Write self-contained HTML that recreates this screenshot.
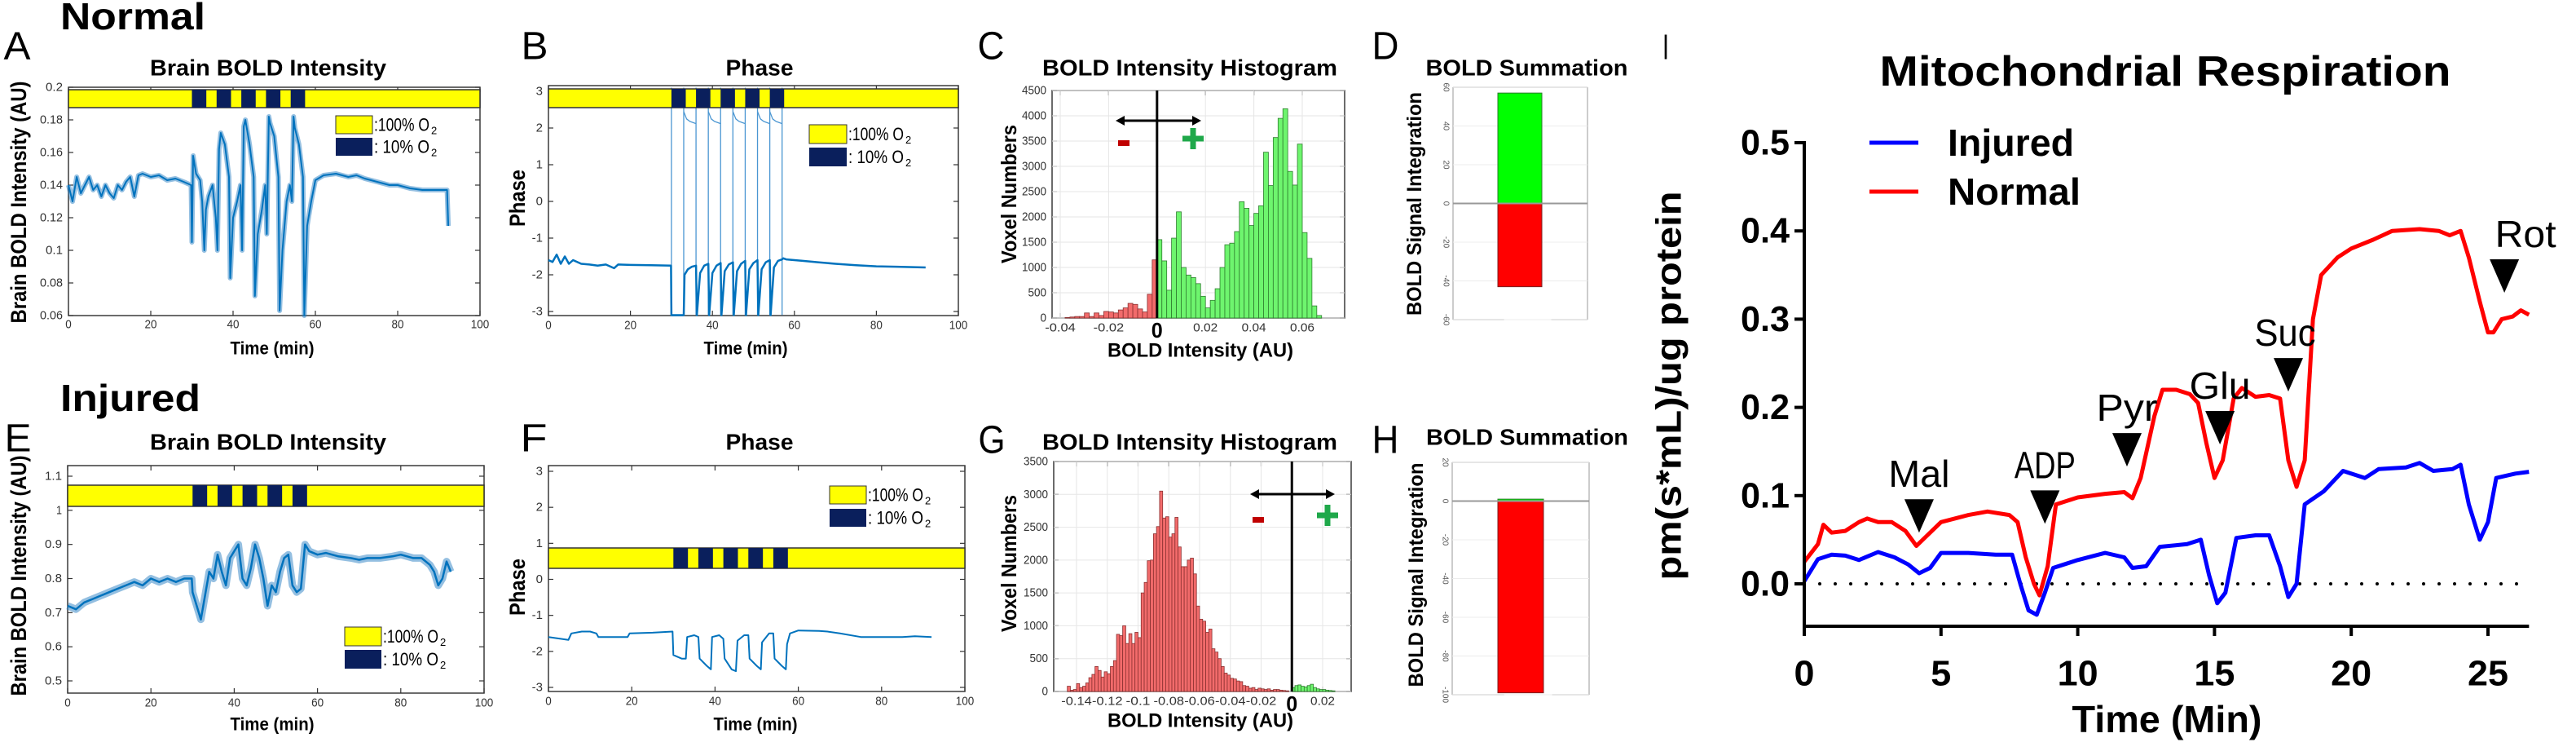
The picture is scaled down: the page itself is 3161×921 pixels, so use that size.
<!DOCTYPE html>
<html><head><meta charset="utf-8"><style>
html,body{margin:0;padding:0;background:#fff;}
svg{display:block;font-family:"Liberation Sans",Arial,sans-serif;}
</style></head><body>
<svg id="fig" width="3161" height="921" viewBox="0 0 3161 921" xmlns="http://www.w3.org/2000/svg"></svg>
<script>
// ---------------- DATA ----------------
const o2Blocks = [[30,33.5],[36,39.5],[42,45.5],[48,51.5],[54,57.5]];
// Panel A - normal BOLD intensity
const aTime = [0,1,2,3,4,5,6,7,8,9,10,11,12,13,14,15,16,17,18,20,22,24,26,28,29.8,30,30.3,31,32,32.5,33,33.4,34,35,35.8,36.2,36.6,37,38,39,39.3,40,41,41.8,42.2,42.6,43,44,45,45.3,46,47,47.8,48.2,48.7,49,50,51,51.3,52,53,53.8,54.3,54.7,55,56,57,57.3,58,59,60,62,65,68,70,72,75,78,80,83,86,89,92,92.3];
const aValue = [0.14,0.13,0.145,0.135,0.14,0.145,0.137,0.14,0.133,0.14,0.135,0.132,0.14,0.137,0.142,0.145,0.133,0.146,0.147,0.145,0.146,0.143,0.144,0.142,0.14,0.105,0.158,0.147,0.143,0.13,0.1,0.125,0.133,0.14,0.12,0.1,0.162,0.172,0.165,0.145,0.083,0.12,0.13,0.14,0.1,0.176,0.18,0.165,0.145,0.072,0.11,0.125,0.14,0.11,0.182,0.178,0.17,0.145,0.063,0.1,0.13,0.14,0.13,0.182,0.175,0.165,0.145,0.06,0.115,0.13,0.143,0.146,0.147,0.145,0.146,0.144,0.142,0.14,0.14,0.138,0.137,0.137,0.137,0.115];
// Panel B - normal phase
const bTime = [0,1,2,3,4,5,6,8,10,12,14,16,17,20,25,29.9,30,33,33.2,34,35,36,36.2,37,38,39,39.2,40,41,42,42.2,43,44,45,45.2,46,47,48,48.2,49,50,51,51.2,52,53,54,54.2,55,56,57,57.3,58,62,66,70,75,80,85,92];
const bPhase = [-1.6,-1.65,-1.45,-1.7,-1.5,-1.7,-1.6,-1.7,-1.72,-1.75,-1.72,-1.82,-1.72,-1.73,-1.74,-1.75,-3.1,-3.1,-2.0,-1.85,-1.78,-1.75,-3.1,-1.95,-1.75,-1.7,-3.1,-1.95,-1.75,-1.68,-3.1,-1.9,-1.72,-1.66,-3.1,-1.9,-1.7,-1.62,-3.1,-1.85,-1.68,-1.6,-3.1,-1.85,-1.66,-1.6,-3.1,-1.8,-1.62,-1.58,-1.55,-1.58,-1.62,-1.66,-1.7,-1.74,-1.77,-1.78,-1.8];
const bWrapTimes = [30,33,36,39,42,45,48,51,54,57];
// Panel E - injured BOLD intensity
const eTime = [0,2,4,6,8,10,12,14,16,18,20,22,24,26,28,29.8,30,31,32,33,34,35,36,37,38,39,40,41,42,43,44,45,46,47,48,49,50,51,52,53,54,55,56,57,58,60,62,65,68,70,72,75,78,80,83,85,87,88,89,90,91,92];
const eValue = [0.72,0.71,0.73,0.74,0.75,0.76,0.77,0.78,0.79,0.78,0.8,0.79,0.8,0.79,0.8,0.8,0.76,0.72,0.68,0.75,0.82,0.8,0.87,0.82,0.78,0.86,0.88,0.9,0.8,0.78,0.83,0.9,0.86,0.8,0.72,0.78,0.76,0.82,0.86,0.87,0.78,0.76,0.77,0.9,0.88,0.87,0.875,0.865,0.86,0.855,0.86,0.86,0.865,0.87,0.86,0.86,0.84,0.82,0.78,0.8,0.85,0.82];
// Panel F - injured phase
const fTime = [0,4.8,5.5,8,10,11.5,12,19,19.5,25,29.8,30,32,33,33.3,35,36,36.3,38,39,39.3,41,42,42.3,44,45,45.4,47,48,48.3,50,51,51.3,53,54,54.3,56,57,57.3,58,60,65,67,70,75,80,85,88,92];
const fPhase = [-1.6,-1.68,-1.5,-1.45,-1.45,-1.5,-1.6,-1.6,-1.5,-1.48,-1.45,-2.1,-2.2,-2.2,-1.6,-1.55,-1.6,-2.2,-2.4,-2.5,-1.6,-1.55,-1.65,-2.2,-2.5,-2.55,-1.7,-1.55,-1.55,-2.2,-2.4,-2.5,-1.75,-1.5,-1.5,-2.2,-2.4,-2.5,-1.8,-1.5,-1.42,-1.43,-1.45,-1.5,-1.6,-1.6,-1.6,-1.58,-1.6];
// Panel C - histogram (normal)
const cBinStart = -0.038, cBinWidth = 0.002;
const cCounts = [10,20,30,30,100,30,100,50,130,120,100,160,200,290,270,180,120,470,1150,1550,1130,550,1580,2100,1000,850,800,680,430,200,350,580,1000,1450,1480,1710,2300,2170,1830,2070,2220,3280,2620,3570,3950,4140,2900,2630,3440,1690,1180,240,50];
// Panel G - histogram (injured)
const gBinStart = -0.146, gBinWidth = 0.002;
const gCounts = [80,20,30,120,60,80,130,210,260,380,320,220,300,270,380,470,870,850,1000,730,880,730,900,820,1500,1660,1990,2000,2400,2510,3050,2640,2660,2350,2400,2650,2200,1900,1900,2000,2030,1790,1300,1100,1070,900,950,650,600,500,380,280,250,200,190,160,150,90,80,50,60,30,50,40,30,40,20,30,30,20,15,10,0,60,90,100,80,70,90,110,60,40,30,30,20,15,10];
// Panels D/H - summation
const dPositive = 57, dNegative = -43;
const hPositive = 1, hNegative = -99;
// Panel I - mitochondrial respiration
const iNormalTime = [0,0.5,0.7,1,1.5,2,2.3,2.7,3.2,3.7,4.1,4.5,5,6,6.7,7.5,7.8,8.1,8.4,8.6,8.9,9.2,10,11,11.7,12,12.3,12.8,13.1,13.6,14.1,14.4,14.7,15,15.3,15.7,16,16.5,17,17.4,17.7,18,18.3,18.6,18.9,19.5,20,20.8,21.5,22.5,23.2,23.6,24,24.3,24.7,25,25.2,25.5,25.9,26.2,26.5];
const iNormal = [0.025,0.045,0.067,0.058,0.06,0.07,0.074,0.07,0.07,0.06,0.043,0.055,0.07,0.078,0.082,0.078,0.07,0.03,0.0,-0.013,0.02,0.09,0.098,0.102,0.104,0.097,0.12,0.19,0.22,0.22,0.215,0.205,0.16,0.12,0.14,0.21,0.222,0.212,0.214,0.21,0.14,0.11,0.14,0.3,0.35,0.37,0.38,0.39,0.4,0.402,0.4,0.395,0.4,0.37,0.32,0.285,0.285,0.3,0.303,0.31,0.305];
const iInjuredTime = [0,0.5,1,1.5,2,2.7,3.3,3.8,4.2,4.6,5,6,7,7.6,7.9,8.2,8.5,8.8,9.1,10,11,11.7,12,12.5,13,14,14.5,14.8,15.1,15.4,15.8,16.5,17,17.4,17.7,18,18.3,19,19.7,20.5,21,22,22.5,23,23.7,24,24.3,24.7,25,25.3,26,26.5];
const iInjured = [0.003,0.028,0.033,0.032,0.027,0.036,0.03,0.022,0.012,0.018,0.035,0.035,0.033,0.033,0.0,-0.03,-0.035,-0.01,0.018,0.027,0.035,0.03,0.018,0.02,0.042,0.045,0.05,0.01,-0.022,-0.01,0.052,0.055,0.055,0.02,-0.015,0.0,0.09,0.105,0.128,0.12,0.13,0.132,0.137,0.128,0.13,0.135,0.09,0.05,0.07,0.12,0.125,0.127];
const iArrowLabels = ["Mal","ADP","Pyr","Glu","Suc","Rot"];
const iArrowTimes = [4.2,8.8,11.8,15.2,17.7,25.6];
const iArrowValues = [0.058,0.068,0.133,0.158,0.218,0.33];
const iYTicks = ["0.0","0.1","0.2","0.3","0.4","0.5"];
const iXTicks = ["0","5","10","15","20","25"];

// ---------------- HELPERS ----------------
const NS="http://www.w3.org/2000/svg";
const svg=document.getElementById('fig');
function mk(tag,attrs,parent,name,inter){
  const e=document.createElementNS(NS,tag);
  for(const k in attrs) e.setAttribute(k,attrs[k]);
  
  
  (parent||svg).appendChild(e);return e;
}
function txt(x,y,s,o,name){
  o=o||{};
  const a={x:x,y:y,'font-size':o.size||16,'text-anchor':o.anchor||'middle','dominant-baseline':o.base||'central',fill:o.fill||'#000'};
  if(o.weight)a['font-weight']=o.weight;
  if(o.len){a.textLength=o.len;a.lengthAdjust='spacingAndGlyphs';}
  if(o.rot!==undefined)a.transform='rotate('+o.rot+' '+x+' '+y+')';
  const e=mk('text',a,o.parent,name||'label');
  e.textContent=s;return e;
}
const lin=(d0,d1,r0,r1)=>v=>r0+(v-d0)/(d1-d0)*(r1-r0);
function fmt(v){let s=(+v.toFixed(4)).toString();return s;}

function frame(g,L,R,T,B,name){
  mk('rect',{x:L,y:T,width:R-L,height:B-T,fill:'none',stroke:'#3a3a3a','stroke-width':1.5},g,name);
}
function yTicks(g,vals,ys,L,R,opt){
  vals.forEach(v=>{
    const y=ys(v);
    mk('line',{x1:L,x2:L+6,y1:y,y2:y,stroke:'#333','stroke-width':1.2},g,'y-tick');
    mk('line',{x1:R,x2:R-6,y1:y,y2:y,stroke:'#333','stroke-width':1.2},g,'y-tick-right');
    if(opt&&opt.grid) mk('line',{x1:L,x2:R,y1:y,y2:y,stroke:'#e6e6e6','stroke-width':1},g,'grid-line');
    txt(L-7,y,fmt(v),{size:opt&&opt.size||15,anchor:'end',fill:'#333',len:opt&&opt.lenf?opt.lenf(fmt(v)):undefined},'y-tick-label');
  });
}
function xTicks(g,vals,xs,T,B,ly,opt){
  vals.forEach(v=>{
    const x=xs(v);
    mk('line',{x1:x,x2:x,y1:B,y2:B-6,stroke:'#333','stroke-width':1.2},g,'x-tick');
    mk('line',{x1:x,x2:x,y1:T,y2:T+6,stroke:'#333','stroke-width':1.2},g,'x-tick-top');
    if(opt&&opt.grid) mk('line',{x1:x,x2:x,y1:T,y2:B,stroke:'#e6e6e6','stroke-width':1},g,'grid-line');
    const lab=fmt(v);
    if(opt&&opt.zeroBig&&Math.abs(v)<1e-9) txt(x,ly+3,'0',{size:26,weight:'bold',len:14},'x-zero-label');
    else txt(x,ly,lab,{size:15,fill:'#333',len:lab.length*7.5},'x-tick-label');
  });
}
function poly(g,xsArr,ysArr,xs,ys,style,name){
  const pts=xsArr.map((t,i)=>xs(t).toFixed(1)+','+ys(ysArr[i]).toFixed(1)).join(' ');
  return mk('polyline',Object.assign({points:pts,fill:'none','stroke-linejoin':'round'},style),g,name);
}
function o2bar(g,xs,y,h,name){
  const L=xs(0),R=xs(100);
  mk('rect',{x:L,y:y,width:R-L,height:h,fill:'#ffff00',stroke:'#333','stroke-width':1.5},g,name);
  o2Blocks.forEach(b=>{
    mk('rect',{x:xs(b[0]),y:y,width:xs(b[1])-xs(b[0]),height:h,fill:'#0a1f5c'},g,'hypoxia-block');
  });
}
function o2legend(g,x,y,w,h,gap,name){
  const lg=mk('g',{},g,name);
  mk('rect',{x:x,y:y,width:w,height:h,fill:'#ffff00',stroke:'#333','stroke-width':1},lg,'legend-swatch-100');
  mk('rect',{x:x,y:y+h+gap,width:w,height:h,fill:'#0a1f5c'},lg,'legend-swatch-10');
  txt(x+w+2,y+h/2,':100% O',{size:22,anchor:'start',len:68,parent:lg},'legend-label-100');
  txt(x+w+72,y+h/2+7,'2',{size:13,anchor:'start',parent:lg},'subscript');
  txt(x+w+2,y+h*1.5+gap,':  10% O',{size:22,anchor:'start',len:68,parent:lg},'legend-label-10');
  txt(x+w+72,y+h*1.5+gap+7,'2',{size:13,anchor:'start',parent:lg},'subscript');
}

// ---------------- TOP LABELS ----------------
txt(74,20,'Normal',{size:46,weight:'bold',anchor:'start',len:178},'normal-row-title');
txt(74,488,'Injured',{size:46,weight:'bold',anchor:'start',len:172},'injured-row-title');
[['A',21,57],['B',656,57],['C',1216,57],['D',1700,57],['E',22,538],['F',655,538],['G',1217,540],['H',1700,540]].forEach(p=>{
  txt(p[1],p[2],p[0],{size:48,len:33},'panel-letter-'+p[0].toLowerCase());
});
txt(2044,58,'I',{size:44,len:8},'panel-letter-i');

// ---------------- PANEL A ----------------
(function(){
  const g=mk('g',{},svg,'panel-a');
  const L=84,R=589,T=107,B=387;
  const xs=lin(0,100,L,R), ys=lin(0.06,0.2,B,T);
  txt(329,83,'Brain BOLD Intensity',{size:28,weight:'bold',len:290},'panel-a-title');
  frame(g,L,R,T,B,'panel-a-frame');
  yTicks(g,[0.06,0.08,0.1,0.12,0.14,0.16,0.18,0.2],ys,L,R,{lenf:s=>s.length*7});
  xTicks(g,[0,20,40,60,80,100],xs,T,B,398);
  o2bar(g,xs,110,22,'panel-a-o2-bar');
  poly(g,aTime,aValue,xs,ys,{stroke:'#2a7fc4','stroke-width':6,opacity:0.5},'bold-noise-band');
  poly(g,aTime,aValue,xs,ys,{stroke:'#0072BD','stroke-width':2},'bold-trace');
  o2legend(g,412,142,45,22,5,'panel-a-legend');
  txt(334,427,'Time (min)',{size:22,weight:'bold',len:103},'x-axis-title');
  txt(23,248,'Brain BOLD Intensity (AU)',{size:27,weight:'bold',len:297,rot:-90},'y-axis-title');
})();

// ---------------- PANEL B ----------------
(function(){
  const g=mk('g',{},svg,'panel-b');
  const L=673,R=1176,T=105,B=387;
  const xs=lin(0,100,L,R), ys=lin(-3,3,382,112);
  txt(932,83,'Phase',{size:28,weight:'bold',len:83},'panel-b-title');
  frame(g,L,R,T,B,'panel-b-frame');
  yTicks(g,[-3,-2,-1,0,1,2,3],ys,L,R,{});
  xTicks(g,[0,20,40,60,80,100],xs,T,B,399);
  bWrapTimes.forEach(t=>mk('line',{x1:xs(t),x2:xs(t),y1:ys(3.1),y2:ys(-3.1),stroke:'#4a96d2','stroke-width':1.3},g,'phase-wrap-line'));
  o2bar(g,xs,109,23,'panel-b-o2-bar');
  [[33,36],[39,42],[45,48],[51,54],[54,57]].forEach(p=>{
    poly(g,[p[0],p[0]+0.7,p[0]+1.5,p[1]],[2.45,2.25,2.18,2.12],xs,ys,{stroke:'#4a96d2','stroke-width':1.3},'phase-wrap-top-curve');
  });
  poly(g,bTime,bPhase,xs,ys,{stroke:'#0072BD','stroke-width':2.5},'phase-trace');
  o2legend(g,993,153,46,23,5,'panel-b-legend');
  txt(915,427,'Time (min)',{size:22,weight:'bold',len:103},'x-axis-title');
  txt(635,243,'Phase',{size:27,weight:'bold',len:70,rot:-90},'y-axis-title');
})();

// ---------------- HISTOGRAM HELPER ----------------
function hist(gname,L,R,T,B,xd,yd,xt,yt,start,w,counts,xticklabY){
  const g=mk('g',{},svg,gname);
  const xs=lin(xd[0],xd[1],xd[2],xd[3]), ys=lin(0,yd[0],B,yd[1]);
  frame(g,L,R,T,B,gname+'-frame');
  yTicks(g,yt,ys,L,R,{grid:true,lenf:s=>s.length*7.5});
  xTicks(g,xt,xs,T,B,xticklabY,{grid:true,zeroBig:true});
  counts.forEach((c,i)=>{
    const x0=start+i*w, pos=x0>=-1e-9;
    if(c<=0)return;
    mk('rect',{x:xs(x0),y:ys(c),width:xs(x0+w)-xs(x0),height:ys(0)-ys(c),fill:pos?'#6ef56e':'#f26b6b',stroke:pos?'#2f7d2f':'#8a3030','stroke-width':0.8},g,pos?'histogram-bar-positive':'histogram-bar-negative');
  });
  mk('line',{x1:xs(0),x2:xs(0),y1:T,y2:B,stroke:'#000','stroke-width':3},g,'zero-line');
  return {g,xs,ys};
}
function pmArrow(g,x1,x2,y,mx,my,px,py){
  mk('line',{x1:x1+6,x2:x2-6,y1:y,y2:y,stroke:'#000','stroke-width':3},g,'direction-arrow');
  mk('polygon',{points:`${x1},${y} ${x1+11},${y-6} ${x1+11},${y+6}`,fill:'#000'},g,'arrow-head-left');
  mk('polygon',{points:`${x2},${y} ${x2-11},${y-6} ${x2-11},${y+6}`,fill:'#000'},g,'arrow-head-right');
  mk('rect',{x:mx,y:my,width:14,height:7,fill:'#c00000'},g,'minus-sign');
  mk('rect',{x:px-13,y:py-3.5,width:26,height:7,fill:'#1fa84a'},g,'plus-sign-h');
  mk('rect',{x:px-3.5,y:py-13,width:7,height:26,fill:'#1fa84a'},g,'plus-sign-v');
}

// ---------------- PANEL C ----------------
(function(){
  const h=hist('panel-c',1291,1650,111,390,[-0.04,0.06,1301,1598],[4500,111],[-0.04,-0.02,0,0.02,0.04,0.06],[0,500,1000,1500,2000,2500,3000,3500,4000,4500],cBinStart,cBinWidth,cCounts,402);
  txt(1460,83,'BOLD Intensity Histogram',{size:28,weight:'bold',len:362},'panel-c-title');
  pmArrow(h.g,1369,1474,148,1372,172,1464,170);
  txt(1473,430,'BOLD Intensity (AU)',{size:24,weight:'bold',len:228},'x-axis-title');
  txt(1238,238,'Voxel Numbers',{size:26,weight:'bold',len:170,rot:-90},'y-axis-title');
})();

// ---------------- PANEL G ----------------
(function(){
  const h=hist('panel-g',1293,1658,566,848,[-0.14,0.02,1321,1623],[3500,566],[-0.14,-0.12,-0.1,-0.08,-0.06,-0.04,-0.02,0,0.02],[0,500,1000,1500,2000,2500,3000,3500],gBinStart,gBinWidth,gCounts,860);
  txt(1460,542,'BOLD Intensity Histogram',{size:28,weight:'bold',len:362},'panel-g-title');
  pmArrow(h.g,1534,1638,606,1537,634,1629,632);
  txt(1473,884,'BOLD Intensity (AU)',{size:24,weight:'bold',len:228},'x-axis-title');
  txt(1238,691,'Voxel Numbers',{size:26,weight:'bold',len:168,rot:-90},'y-axis-title');
})();

// ---------------- SUMMATION HELPER ----------------
function summ(gname,L,R,T,B,ymax,ymin,ticks,bx0,bx1,pos,neg,title,titleY){
  const g=mk('g',{},svg,gname);
  const ys=lin(ymin,ymax,B,T);
  mk('line',{x1:L,x2:R,y1:T,y2:T,stroke:'#888','stroke-width':1.2},g,'frame-top');
  mk('line',{x1:L,x2:L,y1:T,y2:B,stroke:'#aaa','stroke-width':1.2},g,'frame-left');
  mk('line',{x1:R,x2:R,y1:T,y2:B,stroke:'#aaa','stroke-width':1.2},g,'frame-right');
  mk('line',{x1:L,x2:L+(R-L)*0.38,y1:B,y2:B,stroke:'#888','stroke-width':1.2},g,'frame-bottom-left');
  mk('line',{x1:L+(R-L)*0.73,x2:R,y1:B,y2:B,stroke:'#888','stroke-width':1.2},g,'frame-bottom-right');
  ticks.forEach(v=>{
    const y=ys(v);
    mk('line',{x1:L,x2:R,y1:y,y2:y,stroke:'#ececec','stroke-width':1},g,'grid-line');
    txt(L-9,y,String(v),{size:10,fill:'#555',rot:90},'y-tick-label');
  });
  mk('rect',{x:bx0,y:ys(pos),width:bx1-bx0,height:ys(0)-ys(pos),fill:'#00ff00',stroke:'#2a7a2a','stroke-width':1},g,'positive-bar');
  mk('rect',{x:bx0,y:ys(0),width:bx1-bx0,height:ys(neg)-ys(0),fill:'#ff0000',stroke:'#7a2020','stroke-width':1},g,'negative-bar');
  mk('line',{x1:L,x2:R,y1:ys(0),y2:ys(0),stroke:'#999','stroke-width':2},g,'zero-line');
  txt((L+R)/2+8,titleY,title,{size:28,weight:'bold',len:248},gname+'-title');
}
summ('panel-d',1783,1948,107,392,60,-60,[-60,-40,-20,0,20,40,60],1838,1892,dPositive,dNegative,'BOLD Summation',83);
txt(1736,250,'BOLD Signal Integration',{size:25,weight:'bold',len:274,rot:-90},'y-axis-title');
summ('panel-h',1782,1950,567,852,20,-100,[-100,-80,-60,-40,-20,0,20],1838,1894,hPositive,hNegative,'BOLD Summation',536);
txt(1738,705,'BOLD Signal Integration',{size:25,weight:'bold',len:275,rot:-90},'y-axis-title');

// ---------------- PANEL E ----------------
(function(){
  const g=mk('g',{},svg,'panel-e');
  const L=83,R=594,T=571,B=850;
  const xs=lin(0,100,L,R), ys=lin(0.5,1.1,835,584);
  txt(329,542,'Brain BOLD Intensity',{size:28,weight:'bold',len:290},'panel-e-title');
  frame(g,L,R,T,B,'panel-e-frame');
  yTicks(g,[0.5,0.6,0.7,0.8,0.9,1,1.1],ys,L,R,{lenf:s=>s.length*7});
  xTicks(g,[0,20,40,60,80,100],xs,T,B,862);
  o2bar(g,xs,595,26,'panel-e-o2-bar');
  poly(g,eTime,eValue,xs,ys,{stroke:'#2a7fc4','stroke-width':9,opacity:0.5},'bold-noise-band');
  poly(g,eTime,eValue,xs,ys,{stroke:'#0072BD','stroke-width':2.5},'bold-trace');
  o2legend(g,423,769,45,23,5,'panel-e-legend');
  txt(334,888,'Time (min)',{size:22,weight:'bold',len:103},'x-axis-title');
  txt(23,706,'Brain BOLD Intensity (AU)',{size:27,weight:'bold',len:295,rot:-90},'y-axis-title');
})();

// ---------------- PANEL F ----------------
(function(){
  const g=mk('g',{},svg,'panel-f');
  const L=673,R=1184,T=571,B=848;
  const xs=lin(0,100,L,R), ys=lin(-3,3,843,578);
  txt(932,542,'Phase',{size:28,weight:'bold',len:83},'panel-f-title');
  frame(g,L,R,T,B,'panel-f-frame');
  yTicks(g,[-3,-2,-1,0,1,2,3],ys,L,R,{});
  xTicks(g,[0,20,40,60,80,100],xs,T,B,860);
  o2bar(g,xs,672,25,'panel-f-o2-bar');
  poly(g,fTime,fPhase,xs,ys,{stroke:'#0072BD','stroke-width':2},'phase-trace');
  o2legend(g,1018,596,45,22,6,'panel-f-legend');
  txt(927,888,'Time (min)',{size:22,weight:'bold',len:103},'x-axis-title');
  txt(635,720,'Phase',{size:27,weight:'bold',len:70,rot:-90},'y-axis-title');
})();

// ---------------- PANEL I ----------------
(function(){
  const g=mk('g',{},svg,'panel-i');
  const xs=lin(0,25,2214,3053), ys=lin(0,0.5,716,175);
  const B=768, L=2214, Rx=xs(26.5);
  txt(2657,88,'Mitochondrial Respiration',{size:52,weight:'bold',len:701},'panel-i-title');
  mk('line',{x1:L,x2:Rx,y1:ys(0),y2:ys(0),stroke:'#000','stroke-width':4,'stroke-dasharray':'0 19','stroke-linecap':'round'},g,'zero-dotted-line');
  poly(g,iInjuredTime,iInjured,xs,ys,{stroke:'#0000ff','stroke-width':5},'injured-line');
  poly(g,iNormalTime,iNormal,xs,ys,{stroke:'#ff0000','stroke-width':5},'normal-line');
  mk('line',{x1:L,x2:L,y1:173,y2:B+2,stroke:'#000','stroke-width':4},g,'y-axis-line');
  mk('line',{x1:L-2,x2:Rx,y1:B,y2:B,stroke:'#000','stroke-width':4},g,'x-axis-line');
  iYTicks.forEach(s=>{
    const y=ys(parseFloat(s));
    mk('line',{x1:L-12,x2:L,y1:y,y2:y,stroke:'#000','stroke-width':4},g,'y-tick');
    txt(L-18,y,s,{size:44,weight:'bold',anchor:'end',len:60},'y-tick-label');
  });
  iXTicks.forEach(s=>{
    const x=xs(parseFloat(s));
    mk('line',{x1:x,x2:x,y1:B,y2:B+12,stroke:'#000','stroke-width':4},g,'x-tick');
    txt(x,826,s,{size:44,weight:'bold',len:s.length*25},'x-tick-label');
  });
  txt(2659,882,'Time (Min)',{size:46,weight:'bold',len:233},'x-axis-title');
  txt(2048,473,'pm(s*mL)/ug protein',{size:44,weight:'bold',len:477,rot:-90},'y-axis-title');
  mk('line',{x1:2294,x2:2354,y1:175,y2:175,stroke:'#0000ff','stroke-width':5},g,'legend-injured-line');
  txt(2390,175,'Injured',{size:46,weight:'bold',anchor:'start',len:155},'legend-injured-label');
  mk('line',{x1:2294,x2:2354,y1:235,y2:235,stroke:'#ff0000','stroke-width':5},g,'legend-normal-line');
  txt(2390,235,'Normal',{size:46,weight:'bold',anchor:'start',len:163},'legend-normal-label');
  iArrowLabels.forEach((lab,i)=>{
    const x=xs(iArrowTimes[i]), yb=ys(iArrowValues[i]);
    mk('polygon',{points:`${x-18},${yb-41} ${x+18},${yb-41} ${x},${yb}`,fill:'#000'},g,'injection-arrow-'+lab.toLowerCase());
    const lx = lab==='Rot' ? x+26 : (lab==='Suc'? x-4 : x);
    txt(lx,yb-72,lab,{size:46,len:lab.length*25},'injection-label-'+lab.toLowerCase());
  });
})();
</script>
</body></html>
